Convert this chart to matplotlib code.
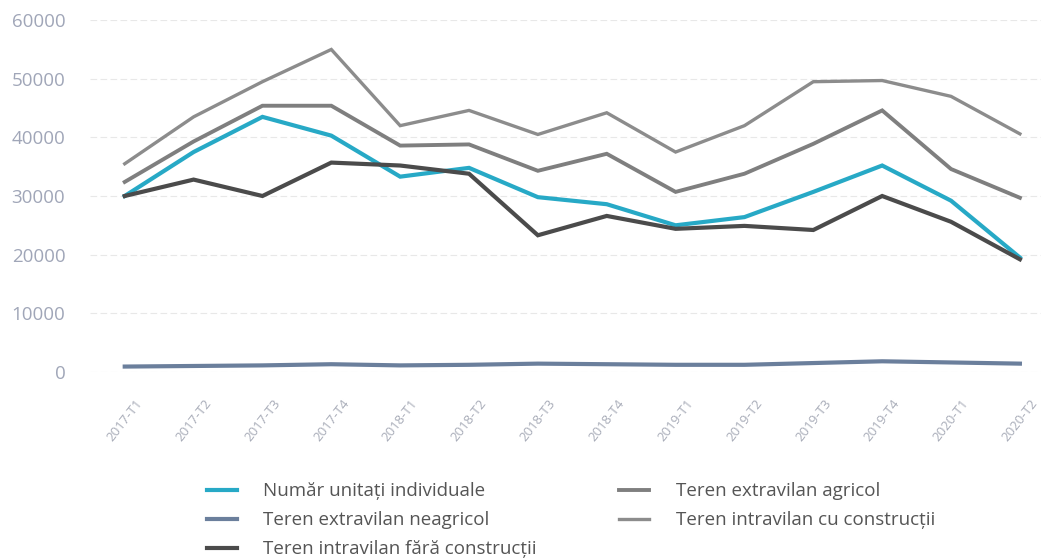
import matplotlib
matplotlib.use("Agg")
import matplotlib.pyplot as plt

categories = ["2017-T1", "2017-T2", "2017-T3", "2017-T4",
              "2018-T1", "2018-T2", "2018-T3", "2018-T4",
              "2019-T1", "2019-T2", "2019-T3", "2019-T4",
              "2020-T1", "2020-T2"]

numar_unitati = [30000, 37500, 43500, 40300, 33300, 34800, 29800, 28600,
                 25000, 26400, 30700, 35200, 29200, 19500]
extravilan_neagricol = [900, 1000, 1100, 1300, 1100, 1200, 1400, 1300,
                        1200, 1200, 1500, 1800, 1600, 1400]
intravilan_fara = [30000, 32800, 30000, 35700, 35200, 33800, 23300, 26600,
                   24400, 24900, 24200, 30000, 25600, 19200]
extravilan_agricol = [32400, 39300, 45400, 45400, 38600, 38800, 34300, 37200,
                      30700, 33800, 38900, 44600, 34600, 29700]
intravilan_cu = [35500, 43500, 49500, 55000, 42000, 44600, 40500, 44200,
                 37500, 42000, 49500, 49700, 47000, 40600]

labels = ["Număr unitați individuale", "Teren extravilan neagricol",
          "Teren intravilan fără construcții", "Teren extravilan agricol",
          "Teren intravilan cu construcții"]
colors = ["#27a9c6", "#6b7f9c", "#4b4b4b", "#7f7f7f", "#8c8c8c"]
widths = [3.0, 3.0, 3.0, 2.8, 2.4]

plt.rcParams['font.family'] = ['Open Sans', 'DejaVu Sans']

fig = plt.figure(figsize=(10.5, 5.6), dpi=100)
ax = fig.add_axes([0.086, 0.336, 0.905, 0.628])

x = list(range(len(categories)))
series = [numar_unitati, extravilan_neagricol, intravilan_fara,
          extravilan_agricol, intravilan_cu]
for vals, lab, c, w in zip(series, labels, colors, widths):
    ax.plot(x, vals, color=c, lw=w, label=lab, solid_joinstyle='miter',
            clip_on=False)

ax.set_xlim(-0.5, 13.3)
ax.set_ylim(0, 60000)
ax.set_yticks(range(0, 60001, 10000))
ax.set_yticklabels([str(v) for v in range(0, 60001, 10000)],
                   fontsize=13.5, color="#a0a6b8")
ax.set_xticks(x)
ax.set_xticklabels(categories, rotation=52, fontsize=9.5, color="#a8acb8",
                   ha="center", va="top")
ax.tick_params(axis='both', length=0)
ax.tick_params(axis='x', pad=18)
ax.tick_params(axis='y', pad=18)
ax.grid(axis='y', color="#e8e8e8", lw=0.8, ls=(0, (6, 3)))
ax.set_axisbelow(True)
for s in ax.spines.values():
    s.set_visible(False)

leg = fig.legend(loc="upper left", ncol=2, frameon=False, fontsize=13.5,
                 handlelength=1.6, handletextpad=1.4, columnspacing=4.4,
                 labelspacing=0.58, borderaxespad=0.0)
for t in leg.get_texts():
    t.set_color("#555555")
leg.set_bbox_to_anchor((0.19, 0.152), transform=fig.transFigure)

fig.savefig("out.png", dpi=100)
